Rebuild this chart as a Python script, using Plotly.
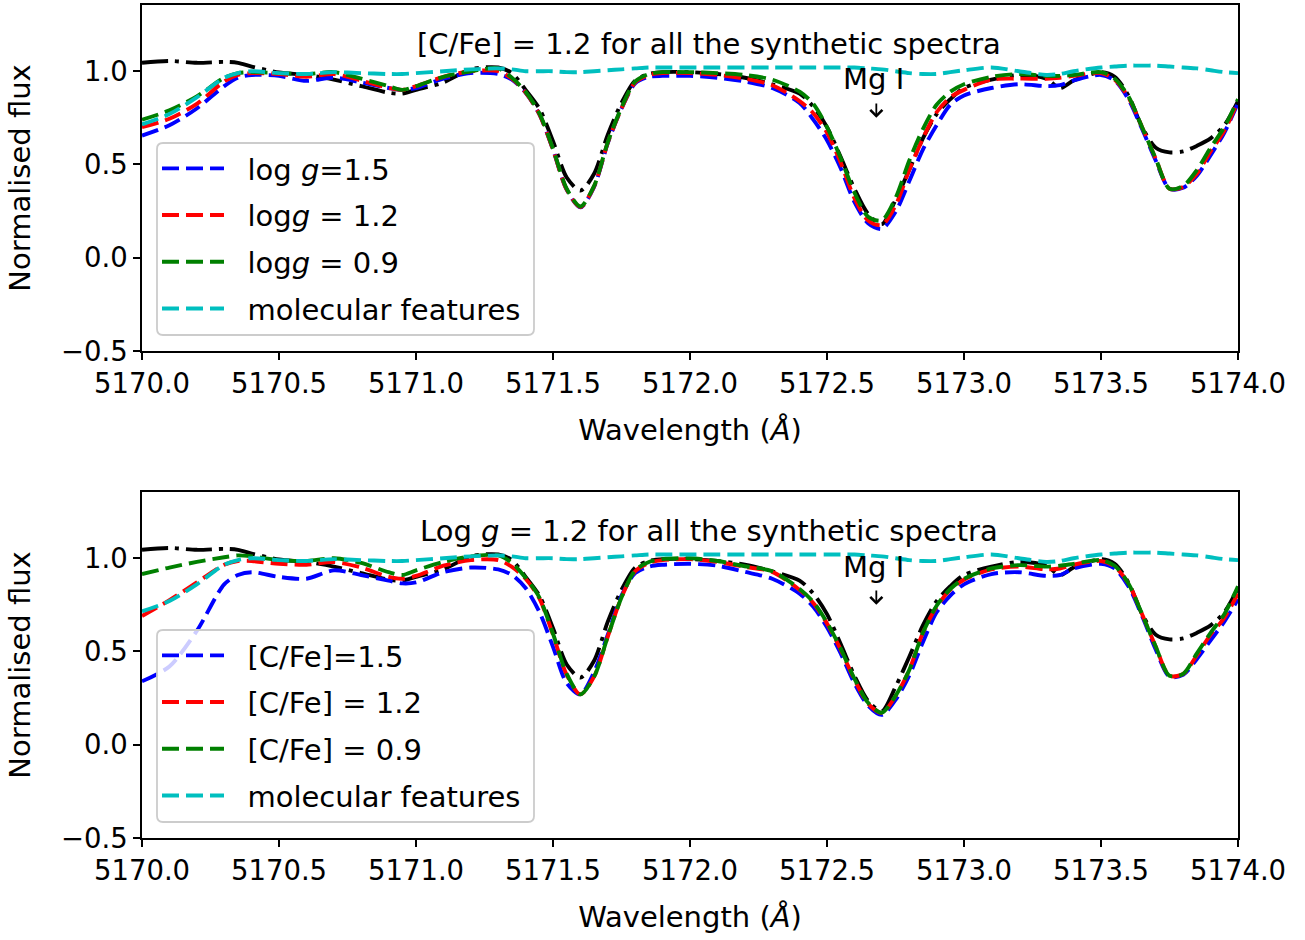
import plotly.graph_objects as go

wavelength = [5170.0, 5170.1, 5170.2, 5170.3, 5170.35, 5170.4, 5170.5, 5170.6, 5170.7, 5170.8, 5170.9, 5170.95,
              5171.0, 5171.1, 5171.2, 5171.3, 5171.35, 5171.4, 5171.45, 5171.5, 5171.55, 5171.6, 5171.65, 5171.7,
              5171.75, 5171.8, 5171.85, 5171.9,
              5172.0, 5172.1, 5172.2, 5172.3, 5172.4, 5172.45, 5172.5, 5172.55, 5172.6, 5172.65, 5172.7, 5172.75,
              5172.8, 5172.85, 5172.9, 5172.95,
              5173.0, 5173.1, 5173.2, 5173.3, 5173.35, 5173.4, 5173.5, 5173.55, 5173.6, 5173.65, 5173.7, 5173.75,
              5173.8, 5173.85, 5173.9, 5173.95, 5174.0]

observed = [1.045, 1.055, 1.045, 1.05, 1.045, 1.025, 0.993, 0.98, 0.955, 0.92, 0.885, 0.88,
            0.90, 0.94, 1.01, 1.02, 0.99, 0.90, 0.80, 0.625, 0.43, 0.36, 0.45, 0.66, 0.83, 0.95, 0.985, 0.995,
            0.995, 0.985, 0.965, 0.93, 0.88, 0.81, 0.70, 0.54, 0.37, 0.235, 0.18, 0.31, 0.47, 0.64, 0.77, 0.85,
            0.91, 0.955, 0.98, 0.96, 0.91, 0.95, 0.995, 0.97, 0.87, 0.70, 0.59, 0.565, 0.57, 0.60, 0.64, 0.71,
            0.84]

molecular = [0.715, 0.77, 0.86, 0.965, 0.99, 1.0, 0.99, 0.985, 0.995, 0.99, 0.985, 0.985,
             0.99, 1.0, 1.01, 1.015, 1.01, 1.0, 1.0, 1.0, 0.995, 0.995, 1.0, 1.005, 1.01, 1.015, 1.02, 1.02,
             1.02, 1.02, 1.02, 1.02, 1.02, 1.02, 1.02, 1.02, 1.02, 1.015, 1.01, 1.0, 0.99, 0.985, 0.985, 0.995,
             1.005, 1.02, 1.0, 0.98, 0.985, 1.0, 1.02, 1.025, 1.03, 1.03, 1.03, 1.025, 1.02, 1.015, 1.005, 0.995,
             0.99]

# Top panel: [C/Fe] = 1.2, varying log g
logg_15 = [0.655, 0.71, 0.80, 0.92, 0.965, 0.98, 0.975, 0.948, 0.966, 0.94, 0.91, 0.90,
           0.91, 0.96, 0.99, 0.985, 0.955, 0.885, 0.77, 0.58, 0.365, 0.27, 0.38, 0.615, 0.80, 0.935, 0.97, 0.975,
           0.975, 0.965, 0.945, 0.91, 0.83, 0.74, 0.63, 0.48, 0.30, 0.185, 0.155, 0.245, 0.41, 0.58, 0.71, 0.82,
           0.87, 0.91, 0.93, 0.92, 0.925, 0.95, 0.98, 0.95, 0.85, 0.69, 0.52, 0.37, 0.375, 0.44, 0.55, 0.67,
           0.83]
logg_12 = [0.70, 0.745, 0.825, 0.945, 0.98, 0.99, 0.985, 0.97, 0.985, 0.95, 0.91, 0.90,
           0.92, 0.97, 1.0, 1.0, 0.96, 0.886, 0.77, 0.58, 0.365, 0.272, 0.383, 0.617, 0.80, 0.94, 0.98, 0.99,
           0.99, 0.98, 0.96, 0.925, 0.84, 0.775, 0.67, 0.51, 0.32, 0.20, 0.175, 0.28, 0.47, 0.64, 0.78, 0.86,
           0.90, 0.955, 0.96, 0.96, 0.965, 0.975, 0.99, 0.955, 0.86, 0.70, 0.53, 0.37, 0.38, 0.45, 0.57, 0.68,
           0.84]
logg_09 = [0.74, 0.79, 0.865, 0.965, 0.99, 0.995, 0.99, 0.985, 0.995, 0.96, 0.92, 0.90,
           0.92, 0.97, 1.0, 1.015, 0.965, 0.89, 0.775, 0.585, 0.37, 0.275, 0.385, 0.62, 0.805, 0.945, 0.985, 0.995,
           0.995, 0.99, 0.98, 0.955, 0.89, 0.825, 0.70, 0.535, 0.35, 0.22, 0.20, 0.32, 0.52, 0.69, 0.82, 0.89,
           0.93, 0.97, 0.985, 0.975, 0.975, 0.98, 0.995, 0.96, 0.865, 0.70, 0.53, 0.37, 0.385, 0.47, 0.59, 0.70,
           0.85]

# Bottom panel: log g = 1.2, varying [C/Fe]
cfe_15 = [0.34, 0.42, 0.61, 0.86, 0.91, 0.925, 0.90, 0.89, 0.935, 0.91, 0.88, 0.865,
          0.87, 0.925, 0.95, 0.94, 0.91, 0.84, 0.713, 0.525, 0.33, 0.27, 0.39, 0.59, 0.80, 0.92, 0.955, 0.965,
          0.97, 0.96, 0.927, 0.89, 0.81, 0.74, 0.63, 0.49, 0.33, 0.21, 0.16, 0.24, 0.37, 0.55, 0.71, 0.80,
          0.86, 0.915, 0.925, 0.905, 0.91, 0.945, 0.97, 0.945, 0.85, 0.69, 0.51, 0.365, 0.375, 0.46, 0.56, 0.66,
          0.78]
cfe_12 = [0.69, 0.775, 0.87, 0.965, 0.985, 0.985, 0.97, 0.965, 0.98, 0.95, 0.90, 0.89,
          0.905, 0.96, 0.99, 0.99, 0.954, 0.89, 0.785, 0.59, 0.375, 0.27, 0.365, 0.58, 0.79, 0.93, 0.975, 0.99,
          0.995, 0.98, 0.954, 0.927, 0.83, 0.76, 0.65, 0.51, 0.35, 0.22, 0.17, 0.26, 0.40, 0.60, 0.74, 0.83,
          0.885, 0.94, 0.955, 0.94, 0.945, 0.965, 0.985, 0.955, 0.865, 0.70, 0.525, 0.37, 0.38, 0.48, 0.59, 0.68,
          0.81]
cfe_09 = [0.915, 0.95, 0.98, 1.005, 1.015, 1.01, 0.99, 0.985, 1.0, 0.975, 0.925, 0.91,
          0.935, 0.98, 1.01, 1.015, 0.975, 0.895, 0.79, 0.595, 0.38, 0.27, 0.365, 0.58, 0.79, 0.935, 0.98, 0.995,
          1.0, 0.985, 0.957, 0.93, 0.835, 0.765, 0.655, 0.515, 0.355, 0.225, 0.172, 0.262, 0.40, 0.60, 0.745, 0.835,
          0.89, 0.945, 0.963, 0.955, 0.96, 0.97, 0.99, 0.96, 0.865, 0.70, 0.525, 0.37, 0.38, 0.49, 0.60, 0.70,
          0.85]

top_labels = ["log <i>g</i>=1.5", "log<i>g</i> = 1.2", "log<i>g</i> = 0.9", "molecular features"]
bottom_labels = ["[C/Fe]=1.5", "[C/Fe] = 1.2", "[C/Fe] = 0.9", "molecular features"]
colors = ["#0000ff", "#ff0000", "#008000", "#00bfbf"]

FONT = "DejaVu Sans"
FS_TICK = 27.5
FS = 29
DASH = "17px,7px"
DASHDOT = "26px,7px,4px,7px"
LW = 3.9
PAD = "\u00a0\u00a0"

fig = go.Figure()


def add_panel(xa, ya, series, labels, legend_name):
    fig.add_trace(go.Scatter(x=wavelength, y=observed, mode="lines", xaxis=xa, yaxis=ya,
                             line=dict(color="black", width=LW, dash=DASHDOT, shape="spline", smoothing=0.8),
                             showlegend=False, hoverinfo="skip"))
    for i, (vals, lab, col) in enumerate(zip(series + [molecular], labels, colors)):
        fig.add_trace(go.Scatter(x=wavelength, y=vals, mode="lines", xaxis=xa, yaxis=ya, name=PAD + lab,
                                 legend=legend_name, legendgroup=f"{legend_name}_{i}",
                                 line=dict(color=col, width=LW, dash=DASH, shape="spline", smoothing=0.8)))


add_panel("x", "y", [logg_15, logg_12, logg_09], top_labels, "legend")
add_panel("x2", "y2", [cfe_15, cfe_12, cfe_09], bottom_labels, "legend2")

W, H = 1305, 940
x0, x1 = 142 / W, 1238 / W
top_dom = [1 - 351 / H, 1 - 5 / H]
bot_dom = [1 - 838 / H, 1 - 492 / H]

axis_common = dict(showline=True, linecolor="black", linewidth=1.5, mirror=True, ticks="outside",
                   ticklen=7, tickwidth=1.5, tickcolor="black", showgrid=False, zeroline=False,
                   automargin=False,
                   tickfont=dict(family=FONT, size=FS_TICK, color="black"))

xticks = [5170.0, 5170.5, 5171.0, 5171.5, 5172.0, 5172.5, 5173.0, 5173.5, 5174.0]
yticks = [-0.5, 0.0, 0.5, 1.0]

for xname, yname, dom, yanchor, xanchor in [("xaxis", "yaxis", top_dom, "y", "x"),
                                            ("xaxis2", "yaxis2", bot_dom, "y2", "x2")]:
    fig.update_layout(**{
        xname: dict(axis_common, domain=[x0, x1], range=[5170, 5174], anchor=yanchor,
                    tickvals=xticks, ticktext=[f"{v:.1f}" for v in xticks],
                    title=dict(text="Wavelength (<i>Å</i>)", font=dict(family=FONT, size=FS, color="black"),
                               standoff=22)),
        yname: dict(axis_common, domain=dom, range=[-0.5, 1.355], anchor=xanchor,
                    tickvals=yticks, ticktext=["−0.5", "0.0", "0.5", "1.0"],
                    title=dict(text="Normalised flux", font=dict(family=FONT, size=FS, color="black"),
                               standoff=22)),
    })

legend_common = dict(bgcolor="rgba(0,0,0,0)", borderwidth=0,
                     font=dict(family=FONT, size=FS, color="black"), xanchor="left", yanchor="top",
                     itemwidth=62, tracegroupgap=6)
fig.update_layout(
    legend=dict(legend_common, x=157 / W, y=1 - 143 / H),
    legend2=dict(legend_common, x=157 / W, y=1 - 630 / H),
)


def rounded_box(left, top, right, bottom, r=6):
    # pixel coordinates -> paper coordinates path with rounded corners
    def px(x):
        return x / W

    def py(y):
        return 1 - y / H
    pts = [
        f"M{px(left + r)},{py(top)}",
        f"L{px(right - r)},{py(top)}",
        f"Q{px(right)},{py(top)} {px(right)},{py(top + r)}",
        f"L{px(right)},{py(bottom - r)}",
        f"Q{px(right)},{py(bottom)} {px(right - r)},{py(bottom)}",
        f"L{px(left + r)},{py(bottom)}",
        f"Q{px(left)},{py(bottom)} {px(left)},{py(bottom - r)}",
        f"L{px(left)},{py(top + r)}",
        f"Q{px(left)},{py(top)} {px(left + r)},{py(top)}",
        "Z",
    ]
    return dict(type="path", path=" ".join(pts), xref="paper", yref="paper", layer="above",
                fillcolor="rgba(255,255,255,0.8)", line=dict(color="#cccccc", width=1.8))


fig.update_layout(shapes=[rounded_box(157, 143, 534, 335), rounded_box(157, 630, 534, 822)])

anns = []
for xr, yr, title, mg_y in [("x", "y", "[C/Fe] = 1.2 for all the synthetic spectra", 0.957),
                            ("x2", "y2", "Log <i>g</i> = 1.2 for all the synthetic spectra", 0.952)]:
    anns.append(dict(x=5172.07, y=1.145, xref=xr, yref=yr, text=title, showarrow=False,
                     font=dict(family=FONT, size=FS, color="black"), xanchor="center", yanchor="middle"))
    anns.append(dict(x=5172.67, y=mg_y, xref=xr, yref=yr, text="Mg I", showarrow=False,
                     font=dict(family=FONT, size=FS, color="black"), xanchor="center", yanchor="middle"))
    anns.append(dict(x=5172.68, y=0.75, xref=xr, yref=yr, ax=5172.68, ay=0.835, axref=xr, ayref=yr,
                     text="", showarrow=True, arrowhead=4, arrowsize=1.3, arrowwidth=1.8, arrowcolor="black"))
fig.update_layout(annotations=anns)

fig.update_layout(width=W, height=H, margin=dict(l=0, r=0, t=0, b=0), paper_bgcolor="white",
                  plot_bgcolor="white", font=dict(family=FONT, size=FS, color="black"))

fig.write_html("out.html")
